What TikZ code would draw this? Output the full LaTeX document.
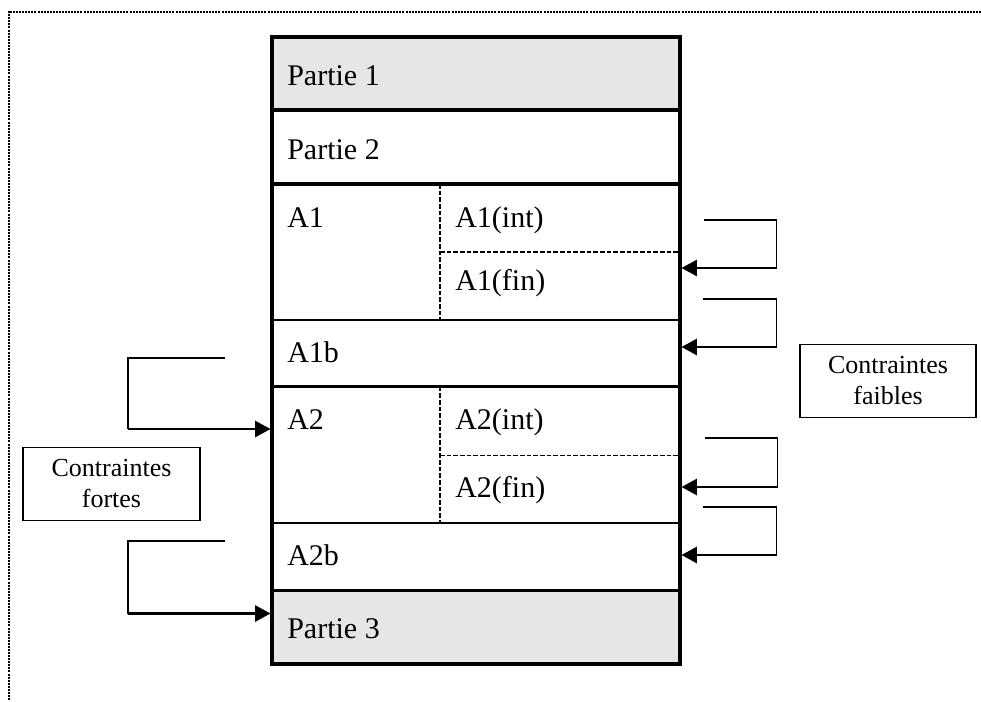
\documentclass[tikz,border=0pt]{standalone}
\usepackage{fontspec}
\setmainfont{Liberation Serif}
\usetikzlibrary{arrows.meta}
\definecolor{cellgrey}{HTML}{E6E6E6}
\begin{document}
\begin{tikzpicture}[x=0.75pt,y=-0.75pt,
  thickline/.style={line width=2.6pt},
  thinline/.style={line width=1.5pt},
  dashline/.style={line width=0.9pt, dash pattern=on 3.5pt off 1.5pt},
  celltext/.style={anchor=base west, inner sep=0pt, font=\fontsize{22.5}{27}\selectfont},
  notebox/.style={draw, line width=1.1pt, minimum width=132pt, minimum height=54.5pt, align=center, inner sep=0pt, font=\fontsize{19.5}{23.25}\selectfont},
  feed/.style={line width=1.1pt},
  arrowseg/.style={line width=1.9pt, -{Triangle[length=11.5pt,width=12pt]}},
]
\useasboundingbox (0,0) rectangle (981,701);
% dotted frame
\coordinate (fTR) at (981,11.5);
\coordinate (fTL) at (8.5,11.5);
\coordinate (fBL) at (8.5,701);
\draw[line width=1.5pt, dash pattern=on 1.5pt off 0.8pt, black] (fTR) -- (fTL) -- (fBL);

% grey rows
\fill[cellgrey] (272,37) rectangle (680,110);
\fill[cellgrey] (272,590.5) rectangle (680,664);

% separators
\draw[thickline] (272,110) -- (680,110);
\draw[thickline] (272,184) -- (680,184);
\draw[thinline] (272,319.5) -- (680,319.5);
\draw[thickline] (272,386.5) -- (680,386.5);
\draw[thinline] (272,522.5) -- (680,522.5);
\draw[thickline] (272,590.5) -- (680,590.5);
\draw[dashline] (440,184) -- (440,319.5);
\draw[dashline] (440,252) -- (680,252);
\draw[dashline] (440,386.5) -- (440,522.5);
\draw[dashline] (440,455.5) -- (680,455.5);
% outer frame of the table
\draw[line width=2.8pt] (272,37) rectangle (680,664);

% cell texts
\node[celltext] (p1) at (287,85) {Partie 1};
\node[celltext] (p2) at (287,159) {Partie 2};
\node[celltext] (a1) at (287,227) {A1};
\node[celltext] (a1i) at (455,227) {A1(int)};
\node[celltext] (a1f) at (455,290) {A1(fin)};
\node[celltext] (a1b) at (287,362) {A1b};
\node[celltext] (a2) at (287,429) {A2};
\node[celltext] (a2i) at (455,429) {A2(int)};
\node[celltext] (a2f) at (455,497) {A2(fin)};
\node[celltext] (a2b) at (287,565) {A2b};
\node[celltext] (p3) at (287,638) {Partie 3};

% note boxes
\node[notebox] (faibles) at (888,381) {Contraintes\\faibles};
\node[notebox, minimum width=133pt] (fortes) at (111.5,484) {Contraintes\\fortes};

% right (weak) feedback arrows
\coordinate (r1a) at (704,220);   \coordinate (r1b) at (776.5,220);
\coordinate (r1c) at (776.5,268); \coordinate (r1t) at (681.5,268);
\coordinate (r2a) at (703,299);   \coordinate (r2b) at (776.5,299);
\coordinate (r2c) at (776.5,347); \coordinate (r2t) at (681.5,347);
\coordinate (r3a) at (705,438);   \coordinate (r3b) at (777.5,438);
\coordinate (r3c) at (777.5,487); \coordinate (r3t) at (681.5,487);
\coordinate (r4a) at (703,507);   \coordinate (r4b) at (776.5,507);
\coordinate (r4c) at (776.5,555); \coordinate (r4t) at (681.5,555);
\foreach \k in {1,2,3,4}{
  \draw[feed] (r\k a) -- (r\k b) -- (r\k c);
  \draw[arrowseg] (r\k c) -- (r\k t);
}

% left (strong) arrows
\coordinate (l1a) at (225,358);   \coordinate (l1b) at (128,358);
\coordinate (l1c) at (128,429);   \coordinate (l1t) at (270.5,429);
\coordinate (l2a) at (225,541);   \coordinate (l2b) at (128,541);
\coordinate (l2c) at (128,613.5); \coordinate (l2t) at (270.5,613.5);
\foreach \k in {1,2}{
  \draw[feed] (l\k a) -- (l\k b) -- (l\k c);
  \draw[arrowseg] (l\k c) -- (l\k t);
}
\end{tikzpicture}
\end{document}
